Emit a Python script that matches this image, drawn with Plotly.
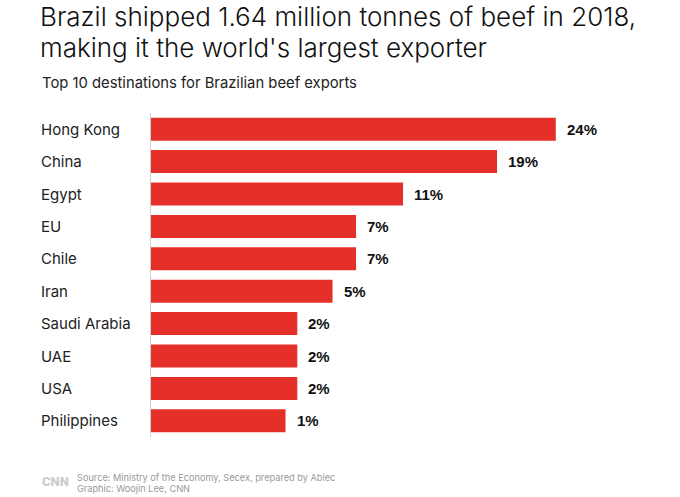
# Brazil beef exports - horizontal bar chart
import plotly.graph_objects as go

# data
countries = ["Hong Kong", "China", "Egypt", "EU", "Chile", "Iran",
             "Saudi Arabia", "UAE", "USA", "Philippines"]
shares = [24, 19, 11, 7, 7, 5, 2, 2, 2, 1]
labels = ["24%", "19%", "11%", "7%", "7%", "5%", "2%", "2%", "2%", "1%"]

title_lines = ["Brazil shipped 1.64 million tonnes of beef in 2018,",
               "making it the world's largest exporter"]
subtitle_text = "Top 10 destinations for Brazilian beef exports"
source_lines = ["Source: Ministry of the Economy, Secex, prepared by Abiec",
                "Graphic: Woojin Lee, CNN"]

BAR_RED = "#e5302a"
BASE = -10.45  # bars in the original do not start at zero
FONT = "Inter"

# layout in pixels
W, H = 680, 497
ML, MR, MT, MB = 151, 40, 113, 60
pw = W - ML - MR
ph = H - MT - MB


def px_x(px):
    return (px - ML) / pw


def px_y(py):
    return (H - MB - py) / ph


fig = go.Figure()

fig.add_trace(go.Bar(
    x=[s - BASE for s in shares],
    y=countries,
    base=BASE,
    orientation="h",
    marker=dict(color=BAR_RED, line=dict(width=0)),
    hoverinfo="skip",
))

# value labels
for c, s, lab in zip(countries, shares, labels):
    fig.add_annotation(
        x=s, y=c, xref="x", yref="y",
        text=lab, showarrow=False,
        xanchor="left", xshift=9,
        font=dict(family="Liberation Sans", size=15, color="#111111", weight=700),
    )

# category labels, left aligned
for c in countries:
    fig.add_annotation(
        x=px_x(39), y=c, xref="paper", yref="y",
        text=c, showarrow=False, xanchor="left",
        font=dict(family=FONT, size=15, color="#222222"),
    )

# title (two lines)
for line, yc in zip(title_lines, [16, 47]):
    fig.add_annotation(
        x=px_x(38), y=px_y(yc), xref="paper", yref="paper",
        text=line, showarrow=False, xanchor="left", yanchor="middle",
        font=dict(family=FONT, size=26, color="#111111", weight=300),
    )

# subtitle
fig.add_annotation(
    x=px_x(40), y=px_y(83), xref="paper", yref="paper",
    text=subtitle_text, showarrow=False, xanchor="left", yanchor="middle",
    font=dict(family=FONT, size=14.8, color="#222222"),
)

# footer
fig.add_annotation(
    x=px_x(40), y=px_y(481), xref="paper", yref="paper",
    text="CNN", showarrow=False, xanchor="left", yanchor="middle",
    font=dict(family="Roboto", size=13, color="#cccccc", weight=900),
)
for line, yc in zip(source_lines, [478, 488]):
    fig.add_annotation(
        x=px_x(75), y=px_y(yc), xref="paper", yref="paper",
        text=line, showarrow=False, xanchor="left", yanchor="middle",
        font=dict(family=FONT, size=9.2, color="#999999"),
    )

fig.update_layout(
    width=W, height=H,
    margin=dict(l=ML, r=MR, t=MT, b=MB),
    paper_bgcolor="white",
    plot_bgcolor="white",
    showlegend=False,
    bargap=0.29,
)

fig.update_xaxes(range=[BASE, BASE + pw / 11.75],
                 showgrid=False, zeroline=False, showticklabels=False,
                 showline=False, fixedrange=True)
fig.update_yaxes(autorange="reversed",
                 showgrid=False, zeroline=False, showticklabels=False,
                 showline=True, linecolor="#d0d0d0", linewidth=1,
                 fixedrange=True)

# page body has an 8px default margin; drop it so the figure sits at 0,0
fig.write_html("out.html", config={"displayModeBar": False},
               post_script="document.body.style.margin='0px';")
